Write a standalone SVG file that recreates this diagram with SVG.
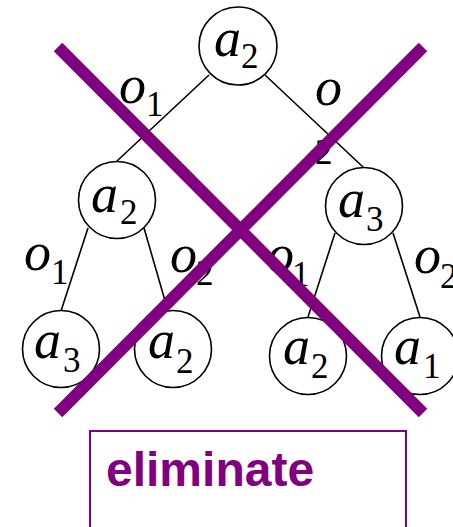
<svg xmlns="http://www.w3.org/2000/svg" width="453" height="527" viewBox="0 0 453 527">
<style>
.n{fill:#fff;stroke:#000;stroke-width:1.6}
.e{stroke:#000;stroke-width:1.6;fill:none}
.m{font-family:"Liberation Serif","Times New Roman",serif;font-style:italic;font-size:54px;fill:#000}
.s{font-family:"Liberation Serif","Times New Roman",serif;font-size:35px;fill:#000}
.x{stroke:#800080;stroke-width:12;stroke-linecap:butt}
.lbl{font-family:"Liberation Sans",Arial,sans-serif;font-weight:bold;font-size:48px;fill:#800080}
</style>
<rect width="453" height="527" fill="#fff"/>
<g id="connectors">
<line class="e" x1="209" y1="75" x2="117" y2="161"/>
<line class="e" x1="265" y1="75" x2="363" y2="167"/>
<line class="e" x1="88" y1="228" x2="61" y2="311"/>
<line class="e" x1="144" y1="228" x2="168" y2="311"/>
<line class="e" x1="335" y1="233" x2="308" y2="317"/>
<line class="e" x1="393" y1="233" x2="420" y2="317"/>
</g>
<g id="edge-labels">
<text class="m" x="119" y="103">o</text><text class="s" x="146" y="116">1</text>
<text class="m" x="315" y="105">o</text><text class="s" x="315" y="164">2</text>
<text class="m" x="24" y="270">o</text><text class="s" x="51" y="284">1</text>
<text class="m" x="170" y="272">o</text><text class="s" x="196" y="285">2</text>
<text class="m" x="267" y="272">o</text><text class="s" x="292" y="286">1</text>
<text class="m" x="414" y="273">o</text><text class="s" x="440" y="288">2</text>
</g>
<g id="root">
<circle class="n" cx="238" cy="46" r="39"/>
<text class="m" x="214" y="56">a</text><text class="s" x="241" y="68">2</text>
</g>
<g id="left">
<circle class="n" cx="117" cy="200" r="38.5"/>
<text class="m" x="91" y="212">a</text><text class="s" x="120" y="224">2</text>
</g>
<g id="right">
<circle class="n" cx="364" cy="206" r="38.5"/>
<text class="m" x="338" y="217">a</text><text class="s" x="366" y="231">3</text>
</g>
<g id="ll">
<circle class="n" cx="61" cy="349" r="38.5"/>
<text class="m" x="34" y="358">a</text><text class="s" x="63" y="372">3</text>
</g>
<g id="lr">
<circle class="n" cx="173" cy="349" r="38.5"/>
<text class="m" x="148" y="358">a</text><text class="s" x="176" y="373">2</text>
</g>
<g id="rl">
<circle class="n" cx="308" cy="356" r="38.5"/>
<text class="m" x="283" y="364">a</text><text class="s" x="311" y="378">2</text>
</g>
<g id="rr">
<circle class="n" cx="420" cy="356" r="38.5"/>
<text class="m" x="394" y="364">a</text><text class="s" x="423" y="378">1</text>
</g>
<g id="cross">
<line class="x" x1="58" y1="47" x2="423" y2="413"/>
<line class="x" x1="423" y1="47" x2="58" y2="413"/>
</g>
<g id="box">
<rect x="90" y="431" width="316" height="110" fill="none" stroke="#800080" stroke-width="2"/>
<text class="lbl" x="106" y="486">eliminate</text>
</g>
</svg>
